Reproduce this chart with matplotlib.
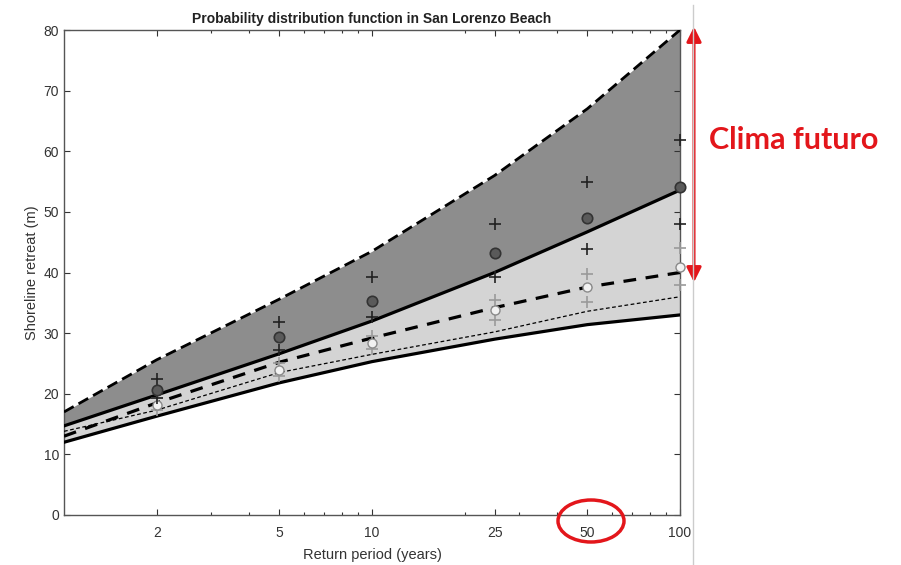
import matplotlib
matplotlib.use("Agg")
import matplotlib.pyplot as plt
from matplotlib.patches import Ellipse, FancyArrowPatch
from matplotlib.ticker import FixedLocator, NullFormatter

# Curves over return period (years)
return_period = [1, 2, 5, 10, 25, 50, 100]
upper_bound = [17.0, 25.6, 35.6, 43.5, 56.0, 67.0, 80.0]
future_median = [14.7, 19.8, 26.6, 32.0, 40.0, 46.7, 53.6]
present_median = [13.0, 18.5, 25.2, 29.2, 34.2, 37.6, 40.0]
present_lower = [13.8, 17.3, 23.5, 26.5, 30.2, 33.6, 36.0]
lower_bound = [12.0, 16.3, 21.8, 25.3, 29.0, 31.4, 33.0]

# Simulated points at discrete return periods
marker_period = [2, 5, 10, 25, 50, 100]
future_mid = [20.6, 29.3, 35.3, 43.2, 49.0, 54.1]
future_hi = [22.4, 31.8, 39.2, 48.0, 55.0, 61.8]
future_lo = [19.3, 27.2, 32.6, 39.3, 43.9, 48.0]
present_mid = [18.2, 24.0, 28.4, 33.8, 37.6, 40.9]
present_hi = [19.3, 25.0, 29.5, 35.5, 39.8, 44.0]
present_lo = [17.3, 23.0, 27.3, 32.2, 35.1, 38.0]

x_ticks = [2, 5, 10, 25, 50, 100]
x_ticklabels = ["2", "5", "10", "25", "50", "100"]
y_ticks = [0, 10, 20, 30, 40, 50, 60, 70, 80]

plt.rcParams['font.family'] = ['Liberation Sans', 'DejaVu Sans']

fig = plt.figure(figsize=(9.01, 5.65), dpi=100)
ax = fig.add_axes([64 / 901, 1 - 515 / 565, 616 / 901, 485 / 565])

ax.set_xscale('log')
ax.set_xlim(1, 100)
ax.set_ylim(0, 80)

dark = '#8d8d8d'
light = '#d4d4d4'
ax.fill_between(return_period, future_median, upper_bound, color=dark, lw=0, zorder=1)
ax.fill_between(return_period, lower_bound, future_median, color=light, lw=0, zorder=1)

ax.plot(return_period, upper_bound, color='black', lw=2, ls=(0, (4, 2)), zorder=3)
ax.plot(return_period, future_median, color='black', lw=2.3, zorder=3)
ax.plot(return_period, present_median, color='black', lw=2.3, ls=(0, (4, 3)), zorder=3)
ax.plot(return_period, present_lower, color='black', lw=0.9, ls=(0, (3, 2)), zorder=3)
ax.plot(return_period, lower_bound, color='black', lw=2.3, zorder=3)

ax.plot(marker_period, present_hi, ls='none', marker='+', ms=9, mew=1.2,
        color='#9a9a9a', zorder=4, clip_on=False)
ax.plot(marker_period, present_lo, ls='none', marker='+', ms=9, mew=1.2,
        color='#9a9a9a', zorder=4, clip_on=False)
ax.plot(marker_period, present_mid, ls='none', marker='o', ms=6.5, mew=1.0,
        mfc='#f2f2f2', mec='#8a8a8a', zorder=4, clip_on=False)
ax.plot(marker_period, future_hi, ls='none', marker='+', ms=9, mew=1.2,
        color='#222222', zorder=4, clip_on=False)
ax.plot(marker_period, future_lo, ls='none', marker='+', ms=9, mew=1.2,
        color='#222222', zorder=4, clip_on=False)
ax.plot(marker_period, future_mid, ls='none', marker='o', ms=7.5, mew=1.2,
        mfc='#5a5a5a', mec='#333333', zorder=4, clip_on=False)

ax.set_xticks(x_ticks)
ax.set_xticklabels(x_ticklabels)
ax.xaxis.set_minor_locator(FixedLocator([2, 3, 4, 5, 6, 7, 8, 9, 20, 30, 40, 50, 60, 70, 80, 90]))
ax.xaxis.set_minor_formatter(NullFormatter())
ax.set_yticks(y_ticks)
ax.tick_params(axis='both', which='both', direction='in', top=True, right=True,
               labelsize=10, colors='#333333', length=4, width=0.8)
ax.tick_params(axis='x', which='minor', length=2)
ax.tick_params(axis='x', which='major', pad=8)
for s in ax.spines.values():
    s.set_color('#555555')
    s.set_linewidth(1.0)

ax.set_title('Probability distribution function in San Lorenzo Beach',
             fontsize=10, fontweight='bold', color='#222222', pad=5)
ax.set_xlabel('Return period (years)', fontsize=10.5, color='#333333', labelpad=6)
ax.set_ylabel('Shoreline retreat (m)', fontsize=10.5, color='#333333', labelpad=3)

# Divider line and annotation to the right of the axes
fig.add_artist(plt.Line2D([693 / 901, 693 / 901], [0, 1 - 5 / 565],
                          transform=fig.transFigure, color='#cccccc', lw=1))
arrow = FancyArrowPatch((694 / 901, 1 - 24 / 565), (694 / 901, 1 - 285 / 565),
                        transform=fig.transFigure, arrowstyle='<|-|>',
                        mutation_scale=22, color='#e3161b', lw=2.2)
fig.add_artist(arrow)
fig.text(794 / 901, 1 - 140 / 565, 'Clima futuro', color='#e3161b',
         fontsize=22, fontweight='bold', family=['Lato', 'DejaVu Sans'],
         ha='center', va='center')
fig.add_artist(Ellipse((591 / 901, 1 - 521 / 565), 66 / 901, 42 / 565,
                       transform=fig.transFigure, fill=False,
                       edgecolor='#e3161b', lw=2.5))

fig.savefig('out.png', dpi=100)
